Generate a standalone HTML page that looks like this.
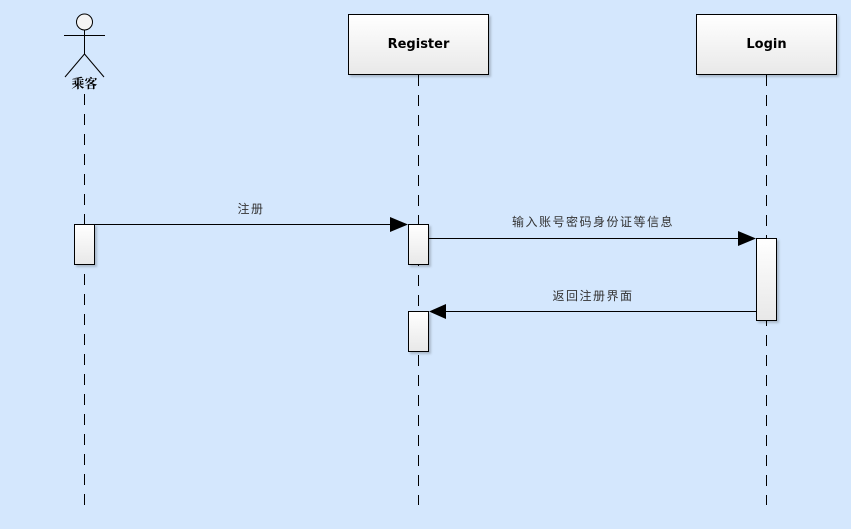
<!DOCTYPE html>
<html><head><meta charset="utf-8"><style>
html,body{margin:0;padding:0;background:#d4e7fd;}
svg{display:block;}
text{font-family:"Liberation Sans","Noto Sans CJK SC",sans-serif;}
</style></head><body>
<svg width="851" height="529" viewBox="0 0 851 529" xmlns="http://www.w3.org/2000/svg">
<defs>
<linearGradient id="g" x1="0" y1="0" x2="0" y2="1"><stop offset="0" stop-color="#ffffff"/><stop offset="1" stop-color="#e8e8e8"/></linearGradient>
<filter id="s" x="-10%" y="-10%" width="130%" height="130%"><feDropShadow dx="2" dy="2" stdDeviation="1" flood-color="#000" flood-opacity="0.2"/></filter>
</defs>
<rect width="851" height="529" fill="#d4e7fd"/>
<g stroke="#000" stroke-width="1" stroke-dasharray="11,9">
<line x1="84.5" y1="94" x2="84.5" y2="505"/>
<line x1="418.5" y1="75" x2="418.5" y2="505"/>
<line x1="766.5" y1="75" x2="766.5" y2="505"/>
</g>
<g stroke="#000" stroke-width="1" fill="none">
<circle cx="84.5" cy="22" r="8" fill="#f4f4f4"/>
<line x1="64" y1="35.5" x2="105" y2="35.5"/>
<line x1="84.5" y1="30" x2="84.5" y2="54"/>
<line x1="84.5" y1="54" x2="65" y2="77"/>
<line x1="84.5" y1="54" x2="104" y2="77"/>
</g>
<text x="84.5" y="88" font-size="13" font-weight="bold" text-anchor="middle" style="font-family:'Noto Serif CJK SC',serif">乘客</text>
<rect x="348.5" y="14.5" width="140" height="60" fill="url(#g)" stroke="#000" filter="url(#s)"/>
<text x="418.5" y="48" font-size="13" font-weight="bold" text-anchor="middle" style="font-family:'DejaVu Sans',sans-serif">Register</text>
<rect x="696.5" y="14.5" width="140" height="60" fill="url(#g)" stroke="#000" filter="url(#s)"/>
<text x="766.5" y="48" font-size="13" font-weight="bold" text-anchor="middle" style="font-family:'DejaVu Sans',sans-serif">Login</text>
<g fill="url(#g)" stroke="#000" filter="url(#s)">
<rect x="74.5" y="224.5" width="20" height="40"/>
<rect x="408.5" y="224.5" width="20" height="40"/>
<rect x="756.5" y="238.5" width="20" height="82"/>
<rect x="408.5" y="311.5" width="20" height="40"/>
</g>
<g stroke="#000" stroke-width="1">
<line x1="94" y1="224.5" x2="392" y2="224.5"/>
<line x1="428" y1="238.5" x2="740" y2="238.5"/>
<line x1="756" y1="311.5" x2="446" y2="311.5"/>
</g>
<polygon points="390,217 408,224.5 390,232" fill="#000"/>
<polygon points="738,231 756,238.5 738,246" fill="#000"/>
<polygon points="446,304 429,311.5 446,319" fill="#000"/>
<g font-size="12" fill="#333" text-anchor="middle" letter-spacing="1.5">
<text x="251" y="213">注册</text>
<text x="593" y="226">输入账号密码身份证等信息</text>
<text x="593" y="300">返回注册界面</text>
</g>
</svg>
</body></html>
